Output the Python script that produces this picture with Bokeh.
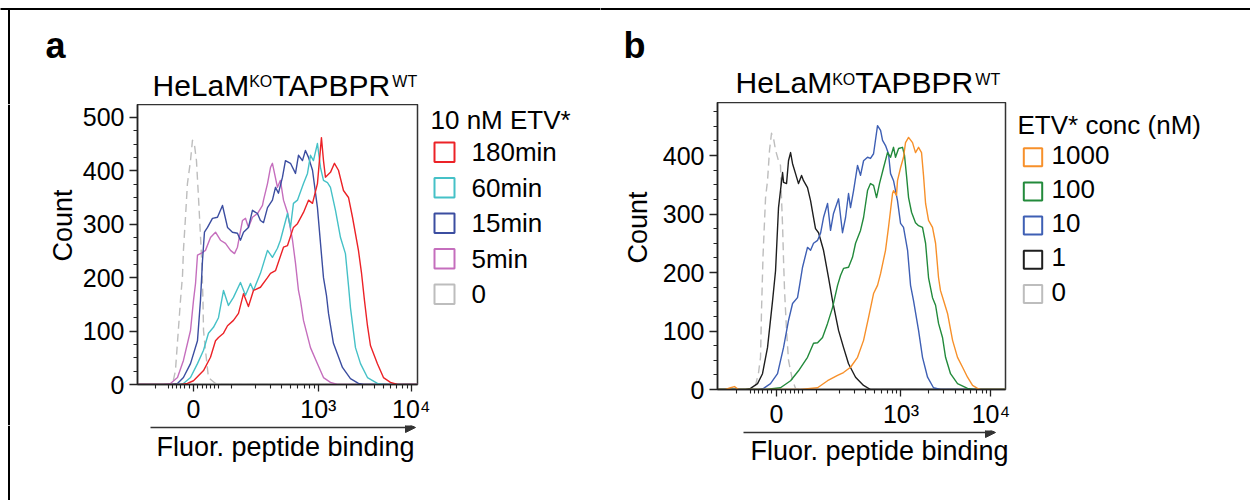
import math
from bokeh.plotting import figure
from bokeh.models import (ColumnDataSource, FixedTicker, Label, Arrow, NormalHead, Span,
                          PolyAnnotation, Range1d, CustomJSTickFormatter)
from bokeh.layouts import row, column
from bokeh.embed import file_html
from bokeh.resources import INLINE

FONT = "Liberation Sans"

# ---------------- data (x: biexponential display units, y: counts) ----------------
A_TITLE = "10 nM ETV*"
A_LABELS = ["180min", "60min", "15min", "5min", "0"]
A_COLORS = ["#ec2227", "#45c1c7", "#3b4da0", "#c56ebd", "#bdbdbd"]

a180_x = [-0.60, -0.14, -0.065, 0.0, 0.108, 0.183, 0.237, 0.269, 0.323, 0.366, 0.430, 0.484, 0.538, 0.591,
          0.645, 0.720, 0.796, 0.828, 0.882, 0.968, 1.011, 1.075, 1.118, 1.183, 1.237, 1.280, 1.333, 1.376,
          1.398, 1.419, 1.473, 1.516, 1.559, 1.613, 1.667, 1.710, 1.774, 1.806, 1.839, 1.871, 1.903, 1.978,
          2.043, 2.118, 2.194, 2.41]
a180_y = [0, 0, 2, 7, 26, 51, 82, 88, 96, 110, 120, 133, 170, 146, 176, 182, 200, 208, 213, 257, 260, 294,
          301, 322, 345, 339, 376, 462, 419, 388, 397, 414, 401, 363, 350, 313, 251, 210, 157, 110, 73, 39,
          13, 4, 0, 0]

a60_x = [-0.60, -0.194, -0.108, -0.032, 0.043, 0.108, 0.161, 0.215, 0.269, 0.323, 0.376, 0.430, 0.505, 0.559,
         0.613, 0.645, 0.720, 0.796, 0.849, 0.903, 0.935, 1.011, 1.043, 1.075, 1.118, 1.183, 1.226, 1.258,
         1.290, 1.333, 1.366, 1.398, 1.441, 1.473, 1.527, 1.581, 1.634, 1.667, 1.688, 1.742, 1.796, 1.871,
         1.978, 2.043, 2.41]
a60_y = [0, 0, 2, 13, 39, 64, 96, 107, 125, 176, 148, 163, 191, 167, 189, 176, 208, 251, 238, 255, 270, 320,
         294, 339, 345, 376, 395, 429, 419, 451, 406, 382, 378, 369, 326, 275, 245, 185, 144, 69, 39, 13, 2,
         0, 0]

a15_x = [-0.60, -0.247, -0.172, -0.108, -0.032, 0.043, 0.075, 0.097, 0.118, 0.151, 0.204, 0.258, 0.312, 0.366,
         0.419, 0.473, 0.505, 0.538, 0.591, 0.634, 0.688, 0.720, 0.753, 0.796, 0.849, 0.882, 0.914, 0.957,
         0.989, 1.043, 1.097, 1.129, 1.172, 1.204, 1.237, 1.280, 1.333, 1.366, 1.398, 1.430, 1.452, 1.505,
         1.602, 1.688, 1.774, 1.828, 2.41]
a15_y = [0, 0, 2, 13, 39, 82, 157, 232, 285, 294, 311, 313, 335, 294, 285, 283, 270, 285, 294, 326, 320, 307,
         303, 331, 345, 369, 358, 388, 419, 414, 395, 429, 419, 438, 425, 401, 331, 264, 200, 167, 133, 77,
         32, 11, 2, 0, 0]

a5_x = [-0.60, -0.323, -0.247, -0.172, -0.108, -0.032, 0.0, 0.022, 0.043, 0.097, 0.129, 0.183, 0.237, 0.290,
        0.344, 0.398, 0.441, 0.473, 0.527, 0.559, 0.591, 0.634, 0.688, 0.742, 0.753, 0.796, 0.828, 0.849,
        0.903, 0.935, 0.968, 1.011, 1.065, 1.097, 1.129, 1.151, 1.183, 1.258, 1.333, 1.398, 1.473, 1.548, 2.41]
a5_y = [0, 0, 2, 13, 45, 101, 157, 189, 242, 247, 251, 275, 285, 270, 264, 251, 245, 257, 307, 311, 294, 313,
        320, 335, 345, 376, 406, 414, 369, 382, 345, 322, 270, 227, 176, 157, 120, 69, 39, 13, 4, 0, 0]

a0_x = [-0.60, -0.226, -0.194, -0.140, -0.118, -0.108, -0.086, -0.065, -0.032, -0.011, 0.011, 0.032, 0.054,
        0.075, 0.091, 0.102, 0.108, 0.129, 0.161, 0.237, 0.312, 2.41]
a0_y = [0, 0, 26, 157, 204, 251, 313, 376, 419, 457, 448, 419, 350, 279, 223, 157, 101, 64, 13, 2, 0, 0]

B_TITLE = "ETV* conc (nM)"
B_LABELS = ["1000", "100", "10", "1", "0"]
B_COLORS = ["#f7902a", "#228a3b", "#3e5fb4", "#1e1e1e", "#bdbdbd"]

b1000_x = [-0.656, -0.567, -0.511, -0.467, -0.422, 0.267, 0.456, 0.567, 0.678, 0.744, 0.822, 0.900, 0.967,
           1.022, 1.078, 1.122, 1.156, 1.211, 1.244, 1.289, 1.300, 1.333, 1.344, 1.378, 1.411, 1.433, 1.467,
           1.511, 1.544, 1.578, 1.611, 1.633, 1.656, 1.689, 1.733, 1.767, 1.800, 1.822, 1.856, 1.900, 1.956,
           2.011, 2.067, 2.122, 2.178, 2.233, 2.267, 2.544]
b1000_y = [0, 0, 3, 5, 0, 0, 3, 15, 24, 29, 38, 55, 84, 123, 164, 178, 198, 238, 277, 335, 340, 332, 357, 379,
           397, 422, 431, 422, 405, 414, 405, 366, 318, 289, 277, 250, 191, 169, 152, 130, 84, 55, 38, 21, 7,
           2, 0, 0]

b100_x = [-0.656, -0.122, 0.044, 0.156, 0.244, 0.344, 0.411, 0.456, 0.511, 0.567, 0.622, 0.678, 0.711, 0.744,
          0.800, 0.844, 0.878, 0.933, 0.967, 1.011, 1.044, 1.078, 1.111, 1.144, 1.189, 1.233, 1.267, 1.300,
          1.322, 1.356, 1.400, 1.422, 1.444, 1.467, 1.500, 1.544, 1.578, 1.622, 1.656, 1.689, 1.733, 1.767,
          1.800, 1.844, 1.878, 1.933, 2.011, 2.122, 2.189, 2.544]
b100_y = [0, 0, 3, 15, 32, 55, 79, 80, 89, 113, 140, 178, 195, 207, 209, 226, 250, 272, 294, 340, 352, 349,
          328, 352, 379, 405, 397, 414, 397, 412, 414, 400, 366, 328, 303, 285, 280, 277, 250, 191, 157, 144,
          113, 89, 55, 27, 10, 2, 0, 0]

b10_x = [-0.656, -0.2, -0.144, -0.067, 0.011, 0.078, 0.133, 0.178, 0.233, 0.256, 0.289, 0.344, 0.378, 0.411,
         0.456, 0.489, 0.522, 0.567, 0.600, 0.633, 0.689, 0.733, 0.767, 0.800, 0.822, 0.856, 0.900, 0.933,
         0.967, 1.011, 1.044, 1.078, 1.122, 1.156, 1.178, 1.211, 1.244, 1.267, 1.300, 1.344, 1.378, 1.411,
         1.456, 1.489, 1.522, 1.578, 1.622, 1.678, 1.744, 1.822, 2.544]
b10_y = [0, 0, 2, 10, 27, 72, 118, 147, 157, 178, 209, 243, 238, 250, 255, 267, 294, 318, 272, 301, 326, 268,
         294, 335, 311, 340, 383, 366, 391, 397, 395, 403, 451, 443, 426, 417, 403, 369, 357, 323, 284, 277,
         238, 178, 152, 101, 55, 21, 3, 0, 0]

b1_x = [-0.656, -0.344, -0.289, -0.211, -0.156, -0.100, -0.044, -0.011, 0.022, 0.067, 0.078, 0.111, 0.133,
        0.156, 0.178, 0.211, 0.244, 0.278, 0.300, 0.344, 0.378, 0.411, 0.433, 0.467, 0.522, 0.578, 0.622,
        0.689, 0.744, 0.800, 0.878, 0.967, 1.044, 2.544]
b1_y = [0, 0, 2, 10, 27, 72, 152, 203, 311, 371, 354, 352, 391, 405, 386, 369, 352, 366, 357, 345, 323, 294,
        275, 268, 238, 191, 152, 101, 72, 44, 21, 7, 0, 0]

b0_x = [-0.656, -0.289, -0.233, -0.200, -0.178, -0.167, -0.150, -0.122, -0.100, -0.078, -0.056, -0.033,
        -0.011, 0.022, 0.044, 0.056, 0.067, 0.078, 0.089, 0.111, 0.133, 0.178, 0.211, 0.267, 2.544]
b0_y = [0, 0, 7, 29, 55, 135, 229, 328, 357, 409, 438, 429, 409, 391, 383, 323, 280, 220, 169, 101, 50, 15, 2,
        0, 0]

X_MAJOR_VALUES = [0, 1000, 10000]
X_MAJOR_LABELS = ["0", "10³", "10⁴"]
X_MINOR_VALUES = [-200, -100, -60, -50, -40, -30, -20, -10, 10, 20, 30, 40, 50, 60, 100,
                  200, 300, 400, 500, 600, 700, 800, 900,
                  2000, 3000, 4000, 5000, 6000, 7000, 8000, 9000, 20000]
A_Y_MAJOR = [0, 100, 200, 300, 400, 500]
B_Y_MAJOR = [0, 100, 200, 300, 400]
Y_MINOR_STEP = 25

A_SERIES = [(a180_x, a180_y), (a60_x, a60_y), (a15_x, a15_y), (a5_x, a5_y), (a0_x, a0_y)]
B_SERIES = [(b1000_x, b1000_y), (b100_x, b100_y), (b10_x, b10_y), (b1_x, b1_y), (b0_x, b0_y)]


def biex(v, w):
    return math.asinh(v / w) / math.log(10)


def make_panel(width, height, borders, xr, ymax, width_param, y_major, series, colors):
    left, right, top, bottom = borders
    p = figure(width=width, height=height, x_range=Range1d(*xr), y_range=Range1d(0, ymax),
               toolbar_location=None, output_backend="svg", title=None,
               min_border_left=left, min_border_right=right,
               min_border_top=top, min_border_bottom=bottom)
    p.frame_align = False
    p.xgrid.visible = False
    p.ygrid.visible = False
    p.outline_line_color = "#333333"
    p.outline_line_width = 1.5
    p.background_fill_color = "white"
    p.border_fill_color = "white"

    majors = [biex(v, width_param) for v in X_MAJOR_VALUES]
    minors = [biex(v, width_param) for v in X_MINOR_VALUES]
    p.xaxis.ticker = FixedTicker(ticks=majors, minor_ticks=minors)
    p.xaxis.formatter = CustomJSTickFormatter(args=dict(major_pos=majors, major_txt=X_MAJOR_LABELS), code="""
        let best = 0, d = Infinity;
        for (let i = 0; i < major_pos.length; i++) {
            const dd = Math.abs(tick - major_pos[i]);
            if (dd < d) { d = dd; best = i; }
        }
        return major_txt[best];
    """)
    ymin_ticks = [v for v in range(0, int(ymax) + 1, Y_MINOR_STEP)]
    p.yaxis.ticker = FixedTicker(ticks=y_major, minor_ticks=ymin_ticks)

    for ax in (p.xaxis, p.yaxis):
        ax.axis_line_color = "#222222"
        ax.axis_line_width = 1.5
        ax.major_tick_line_color = "#222222"
        ax.minor_tick_line_color = "#222222"
        ax.major_tick_line_width = 1.3
        ax.minor_tick_line_width = 1.1
        ax.major_tick_in = 0
        ax.minor_tick_in = 0
        ax.major_label_text_font = FONT
        ax.major_label_text_font_size = "25px"
        ax.major_label_text_color = "black"
    p.xaxis.major_tick_out = 7
    p.xaxis.minor_tick_out = 4
    p.xaxis.major_label_standoff = 3
    p.yaxis.major_tick_out = 8
    p.yaxis.minor_tick_out = 4
    p.yaxis.major_label_standoff = 5

    order = list(range(len(series)))[::-1]
    for i in order:
        xs, ys = series[i]
        src = ColumnDataSource(dict(x=xs, y=ys))
        dash = "8 5" if i == len(series) - 1 else "solid"
        p.line("x", "y", source=src, line_color=colors[i], line_width=1.4, line_dash=dash,
               line_join="round")
    return p


def blank(x0, x1, y0, y1):
    """A figure whose frame is its whole canvas, with ranges in page pixels (y down)."""
    p = figure(width=int(x1 - x0), height=int(y1 - y0), x_range=Range1d(x0, x1), y_range=Range1d(y1, y0),
               toolbar_location=None, output_backend="svg", title=None,
               x_axis_type=None, y_axis_type=None,
               min_border_left=0, min_border_right=0, min_border_top=0, min_border_bottom=0)
    p.frame_align = False
    p.outline_line_color = None
    p.background_fill_color = "white"
    p.border_fill_color = "white"
    return p


def txt(p, x, base, text, size, **kw):
    """Place text by its alphabetic baseline (converted to a middle anchor)."""
    px = float(size.replace("px", ""))
    opts = dict(text_font=FONT, text_font_size=size, text_color="black",
                text_baseline="middle", text_align="left")
    opts.update(kw)
    p.add_layout(Label(x=x, y=base - 0.3465 * px, text=text, **opts))


def hline(p, x0, x1, y, width=2, color="black"):
    p.add_layout(Arrow(end=None, x_start=x0, y_start=y, x_end=x1, y_end=y, line_color=color, line_width=width))


def vline(p, x, y0, y1, width=2, color="black"):
    p.add_layout(Arrow(end=None, x_start=x, y_start=y0, x_end=x, y_end=y1, line_color=color, line_width=width))


def left_edge(p):
    p.add_layout(Span(location=8.5, dimension="height", line_color="black", line_width=2))


def title(p, x, base, sup_base):
    segs = [("HeLaM", 30, False), ("KO", 16, True), ("TAPBPR", 30, False), ("WT", 16, True)]
    adv = {"HeLaM": 3.223, "KO": 1.445, "TAPBPR": 4.001, "WT": 1.555}
    cx = x
    for s, size, sup in segs:
        txt(p, cx, sup_base if sup else base, s, f"{size}px")
        cx += adv[s] * size


def legend(p, title_xy, head, box_x, label_x, base0, step, box_off, labels, colors):
    txt(p, title_xy[0], title_xy[1], head, "26px")
    for i, (lab, col) in enumerate(zip(labels, colors)):
        base = base0 + i * step
        t0, b0 = base + box_off[0], base + box_off[1]
        p.add_layout(PolyAnnotation(xs=[box_x[0], box_x[1], box_x[1], box_x[0]], ys=[t0, t0, b0, b0],
                                    fill_alpha=0, line_color=col, line_alpha=1.0, line_width=2))
        txt(p, label_x, base, lab, "26px")


# ---------------- panel a (page x 0..600) ----------------
topA = blank(0, 600, 0, 104)
hline(topA, -5, 605, 8.5)
vline(topA, 8.5, 7.5, 115)
txt(topA, 45, 57, "a", "36px", text_font_style="bold")
title(topA, 152, 95, 87)

leftA = blank(0, 78, 104, 425)
left_edge(leftA)
txt(leftA, 62, 225 + 0.3465 * 27, "Count", "27px", angle=math.pi / 2, text_align="center")

mainA = make_panel(353, 321, (59, 14, 0, 41), (-0.602, 2.409), 524, 91.0, A_Y_MAJOR, A_SERIES, A_COLORS)

rightA = blank(431, 600, 104, 425)
legend(rightA, (430, 129), A_TITLE, (434, 454), 471, 161, 35.5, (-19, 0.5), A_LABELS, A_COLORS)

bottomA = blank(0, 600, 425, 500)
left_edge(bottomA)
bottomA.add_layout(Arrow(x_start=150, y_start=427, x_end=415, y_end=427, line_color="#333333", line_width=1.3,
                         end=NormalHead(size=10, fill_color="#333333", line_color="#333333")))
txt(bottomA, 285, 456, "Fluor. peptide binding", "27px", text_align="center")

colA = column(topA, row(leftA, mainA, rightA), bottomA)

# ---------------- panel b (page x 600..1250) ----------------
topB = blank(600, 1250, 0, 102)
hline(topB, 595, 1255, 8.5)
txt(topB, 623, 57, "b", "36px", text_font_style="bold")
title(topB, 735, 92, 85)

leftB = blank(600, 655, 102, 430)
txt(leftB, 637, 227 + 0.3465 * 27, "Count", "27px", angle=math.pi / 2, text_align="center")

mainB = make_panel(359, 328, (62, 9, 0, 41), (-0.656, 2.544), 490.6, 83.0, B_Y_MAJOR, B_SERIES, B_COLORS)

rightB = blank(1014, 1250, 102, 430)
legend(rightB, (1017, 134), B_TITLE, (1023.3, 1041.7), 1051, 163.3, 34.2, (-15.6, 2.4), B_LABELS, B_COLORS)

bottomB = blank(600, 1250, 430, 500)
bottomB.add_layout(Arrow(x_start=743, y_start=432, x_end=995, y_end=432, line_color="#333333", line_width=1.3,
                         end=NormalHead(size=10, fill_color="#333333", line_color="#333333")))
txt(bottomB, 879, 460, "Fluor. peptide binding", "27px", text_align="center")

colB = column(topB, row(leftB, mainB, rightB), bottomB)

layout = row(colA, colB)
open("out.html", "w").write(file_html(layout, INLINE))
